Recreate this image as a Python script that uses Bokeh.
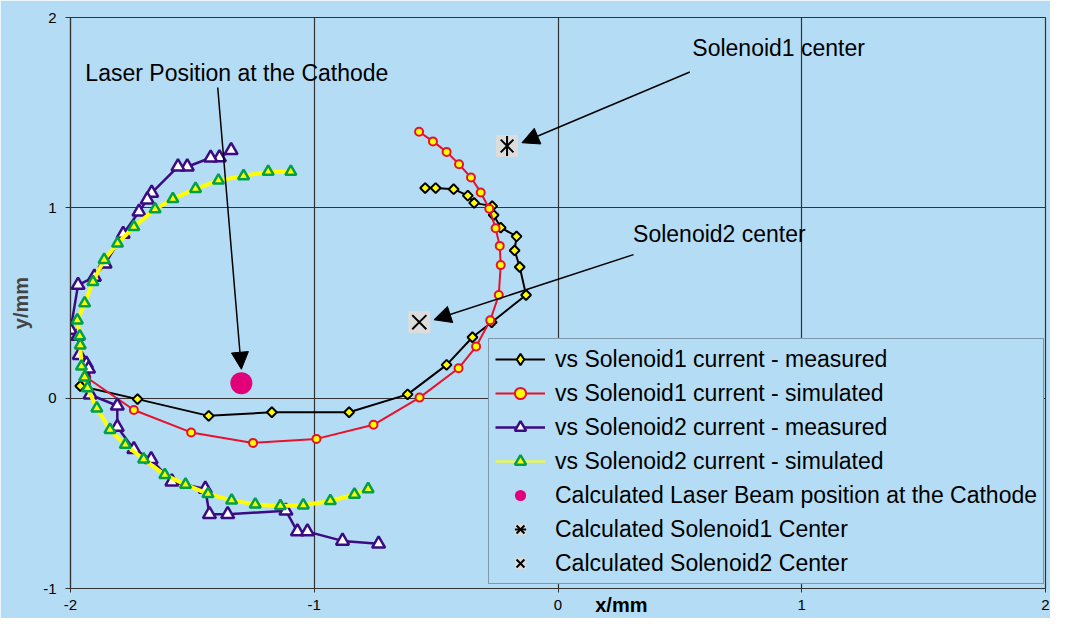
import numpy as np
from bokeh.plotting import figure
from bokeh.models import (Range1d, FixedTicker, Legend, LegendItem, Label, Arrow, NormalHead,
                          LinearAxis)
from bokeh.embed import file_html
from bokeh.resources import INLINE

# ---------------- data ----------------
x_ticks = [-2, -1, 0, 1, 2]
y_ticks = [-1, 0, 1, 2]
x_tick_labels = ["-2", "-1", "0", "1", "2"]
y_tick_labels = ["-1", "0", "1", "2"]

sol1_meas_x = [-1.960, -1.725, -1.433, -1.174, -0.857, -0.617, -0.457, -0.351, -0.272, -0.131,
               -0.157, -0.178, -0.170, -0.235, -0.264, -0.270, -0.344, -0.370, -0.428, -0.502, -0.545]
sol1_meas_y = [0.064, -0.005, -0.093, -0.074, -0.074, 0.020, 0.175, 0.320, 0.399, 0.542,
               0.689, 0.776, 0.850, 0.896, 0.962, 1.009, 1.026, 1.064, 1.098, 1.104, 1.104]

sol1_sim_x = [-1.935, -1.740, -1.505, -1.251, -0.991, -0.757, -0.568, -0.408, -0.336, -0.278,
              -0.243, -0.235, -0.239, -0.256, -0.282, -0.317, -0.357, -0.406, -0.457, -0.513, -0.570]
sol1_sim_y = [0.110, -0.062, -0.180, -0.235, -0.214, -0.140, 0.003, 0.157, 0.271, 0.409,
              0.542, 0.699, 0.800, 0.893, 0.995, 1.081, 1.159, 1.229, 1.294, 1.349, 1.400]

sol2_meas_x = [-1.341, -1.389, -1.425, -1.521, -1.559, -1.667, -1.685, -1.719, -1.784, -1.858,
               -1.902, -1.969, -2.000, -1.970, -1.964, -1.935, -1.926, -1.919, -1.808, -1.808,
               -1.740, -1.669, -1.584, -1.447, -1.430, -1.355, -1.116, -1.069, -1.028, -0.884, -0.736]
sol2_meas_y = [1.302, 1.264, 1.263, 1.216, 1.216, 1.078, 1.043, 0.979, 0.862, 0.706,
               0.637, 0.594, 0.358, 0.326, 0.226, 0.180, 0.154, 0.018, -0.040, -0.152,
               -0.269, -0.321, -0.439, -0.477, -0.610, -0.610, -0.592, -0.701, -0.701, -0.750, -0.765]

sol2_sim_x = [-1.096, -1.189, -1.290, -1.393, -1.487, -1.580, -1.653, -1.740, -1.807, -1.862,
              -1.908, -1.942, -1.972, -1.962, -1.960, -1.955, -1.942, -1.930, -1.892, -1.838,
              -1.775, -1.700, -1.613, -1.528, -1.436, -1.339, -1.242, -1.139, -1.045, -0.934,
              -0.835, -0.779]
sol2_sim_y = [1.190, 1.190, 1.167, 1.144, 1.100, 1.047, 0.993, 0.900, 0.813, 0.727,
              0.611, 0.499, 0.409, 0.326, 0.278, 0.167, 0.110, 0.053, -0.053, -0.166,
              -0.244, -0.321, -0.403, -0.454, -0.503, -0.537, -0.558, -0.566, -0.563, -0.540,
              -0.506, -0.477]

laser_x = [-1.299]
laser_y = [0.079]
sol1_center_x = [-0.209]
sol1_center_y = [1.325]
sol2_center_x = [-0.569]
sol2_center_y = [0.399]

legend_labels = ["vs Solenoid1 current - measured",
                 "vs Solenoid1 current - simulated",
                 "vs Solenoid2 current - measured",
                 "vs Solenoid2 current - simulated",
                 "Calculated Laser Beam position at the Cathode",
                 "Calculated Solenoid1 Center",
                 "Calculated Solenoid2 Center"]

annot_texts = ["Laser Position at the Cathode", "Solenoid1 center", "Solenoid2 center"]
annot_x = [-1.939, 0.551, 0.308]
annot_y = [1.710, 1.839, 0.865]
arrow_x0 = [-1.396, 0.541, 0.310]
arrow_y0 = [1.632, 1.714, 0.754]
arrow_x1 = [-1.299, -0.148, -0.509]
arrow_y1 = [0.152, 1.342, 0.412]

xlabel_text = "x/mm"
xlabel_at = 0.26

# ---------------- style ----------------
BG = "#B4DDF5"
FONT = "Liberation Sans"
GRID = "#333333"

p = figure(width=1050, height=618, output_backend="svg", toolbar_location=None,
           x_range=Range1d(-2, 2), y_range=Range1d(-1, 2),
           min_border_left=70, min_border_right=5, min_border_top=17, min_border_bottom=28)
p.background_fill_color = BG
p.border_fill_color = BG
p.outline_line_color = GRID
p.outline_line_width = 1.2

p.xaxis.ticker = FixedTicker(ticks=x_ticks)
p.yaxis.ticker = FixedTicker(ticks=y_ticks)
p.xaxis.major_label_overrides = dict(zip(x_ticks, x_tick_labels))
p.yaxis.major_label_overrides = dict(zip(y_ticks, y_tick_labels))
for ax in (p.xaxis[0], p.yaxis[0]):
    ax.axis_line_color = GRID
    ax.axis_line_width = 1.2
    ax.major_tick_line_color = GRID
    ax.minor_tick_line_color = None
    ax.major_label_text_font = FONT
    ax.major_label_text_font_size = "15px"
    ax.major_label_text_color = "black"
p.xaxis.major_tick_in = 4
p.xaxis.major_tick_out = 4
p.xaxis.major_label_standoff = 7
p.yaxis.major_tick_in = 0
p.yaxis.major_tick_out = 5
p.yaxis.major_label_standoff = 9
p.yaxis.axis_label = "y/mm"
p.yaxis.axis_label_text_font = FONT
p.yaxis.axis_label_text_font_style = "bold"
p.yaxis.axis_label_text_font_size = "20px"
p.yaxis.axis_label_standoff = 8

# second bottom axis only carrying the "x/mm" caption, pulled up to the tick-label row
cap_axis = LinearAxis(ticker=FixedTicker(ticks=[xlabel_at]),
                      major_label_overrides={xlabel_at: xlabel_text},
                      axis_line_color=None, major_tick_line_color=None, minor_tick_line_color=None,
                      major_tick_in=0, major_tick_out=0, major_label_standoff=-19,
                      major_label_text_font=FONT, major_label_text_font_size="20px",
                      major_label_text_font_style="bold", major_label_text_color="black")
p.add_layout(cap_axis, "below")

for g in (p.xgrid[0], p.ygrid[0]):
    g.grid_line_color = GRID
    g.grid_line_width = 1.2
p.xgrid.ticker = FixedTicker(ticks=x_ticks)
p.ygrid.ticker = FixedTicker(ticks=y_ticks)

# ---------------- series ----------------
l1 = p.line(sol1_meas_x, sol1_meas_y, line_color="black", line_width=2)
m1 = p.scatter(sol1_meas_x, sol1_meas_y, marker="square", angle=np.pi / 4, size=7,
               fill_color="#FFFF00", line_color="black", line_width=2)
m1_key = p.scatter(sol1_meas_x, sol1_meas_y, marker="diamond", size=12,
                   fill_color="#FFFF00", line_color="black", line_width=2, visible=False)

l2 = p.line(sol1_sim_x, sol1_sim_y, line_color="#E8112D", line_width=2)
m2 = p.scatter(sol1_sim_x, sol1_sim_y, marker="circle", size=8,
               fill_color="#FFFF00", line_color="#E8112D", line_width=2)

l3 = p.line(sol2_meas_x, sol2_meas_y, line_color="#3B0B83", line_width=2.5)
m3 = p.scatter(sol2_meas_x, sol2_meas_y, marker="triangle", size=13,
               fill_color="white", line_color="#3B0B83", line_width=2.5)

l4 = p.line(sol2_sim_x, sol2_sim_y, line_color="#FFFF00", line_width=4)
l4_key = p.line(sol2_sim_x, sol2_sim_y, line_color="#FFFF00", line_width=2, visible=False)
m4 = p.scatter(sol2_sim_x, sol2_sim_y, marker="triangle", size=11,
               fill_color="#FFFF00", line_color="#00A04A", line_width=2.5)

m5 = p.scatter(laser_x, laser_y, marker="circle", size=22, fill_color="#E2007A", line_color=None)

s6a = p.scatter(sol1_center_x, sol1_center_y, marker="square", size=22, fill_color="#DCDCDC", line_color=None)
s6b = p.scatter(sol1_center_x, sol1_center_y, marker="x", size=18, line_color="black", line_width=2)
s6c = p.scatter(sol1_center_x, sol1_center_y, marker="dash", angle=np.pi / 2, size=20,
                line_color="black", line_width=2)

s7a = p.scatter(sol2_center_x, sol2_center_y, marker="square", size=22, fill_color="#DCDCDC", line_color=None)
s7b = p.scatter(sol2_center_x, sol2_center_y, marker="x", size=20, line_color="black", line_width=2)

# ---------------- annotations ----------------
for t, x, y in zip(annot_texts, annot_x, annot_y):
    p.add_layout(Label(x=x, y=y, text=t, text_font=FONT, text_font_size="23px",
                       text_baseline="middle", text_align="left", text_color="black"))
for x0, y0, x1, y1 in zip(arrow_x0, arrow_y0, arrow_x1, arrow_y1):
    p.add_layout(Arrow(end=NormalHead(size=17, fill_color="black", line_color="black"),
                       x_start=x0, y_start=y0, x_end=x1, y_end=y1,
                       line_color="black", line_width=1.5))

# ---------------- legend ----------------
items = [LegendItem(label=legend_labels[0], renderers=[l1, m1_key]),
         LegendItem(label=legend_labels[1], renderers=[l2, m2]),
         LegendItem(label=legend_labels[2], renderers=[l3, m3]),
         LegendItem(label=legend_labels[3], renderers=[l4_key, m4]),
         LegendItem(label=legend_labels[4], renderers=[m5]),
         LegendItem(label=legend_labels[5], renderers=[s6a, s6b, s6c]),
         LegendItem(label=legend_labels[6], renderers=[s7a, s7b])]
legend = Legend(items=items, location=(418, 4), orientation="vertical",
                background_fill_color=BG, background_fill_alpha=1.0,
                border_line_color="#4a5560", border_line_width=1,
                label_text_font=FONT, label_text_font_size="23px", label_text_color="black",
                glyph_width=50, glyph_height=28, label_height=28, spacing=6, padding=6,
                label_standoff=10)
p.add_layout(legend)

open("out.html", "w").write(file_html(p, INLINE))
